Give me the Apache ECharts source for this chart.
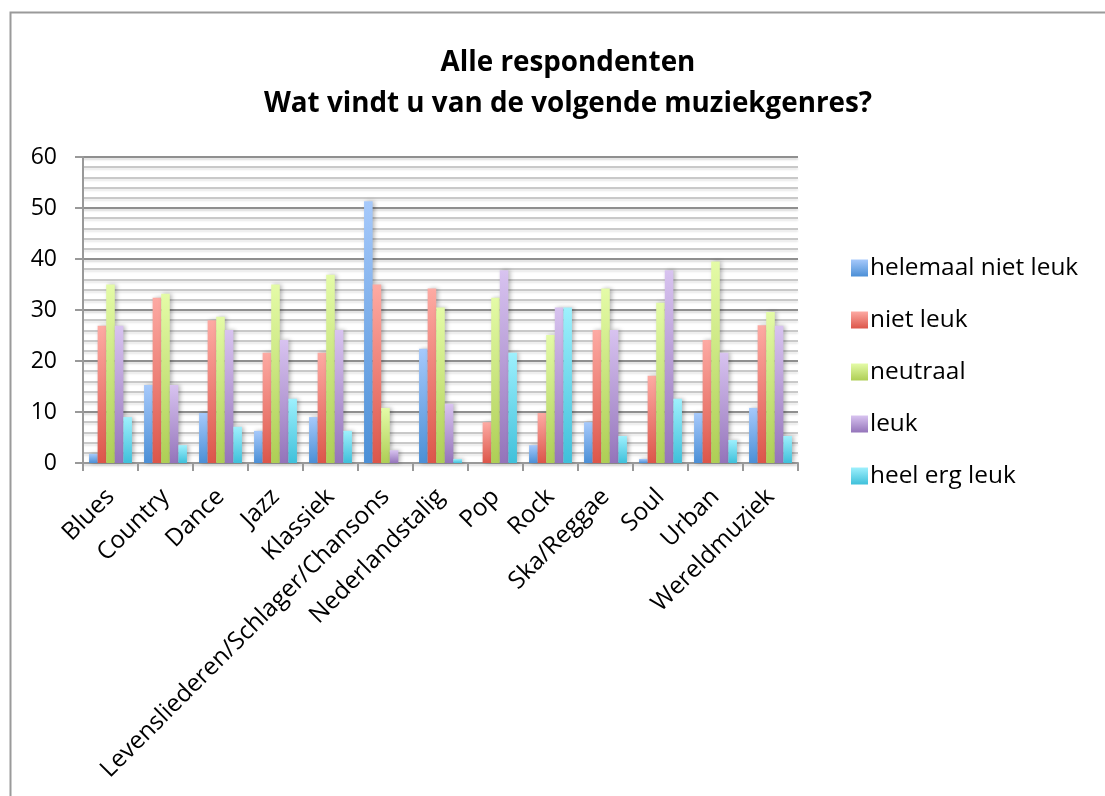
<!DOCTYPE html>
<html>
<head>
<meta charset="utf-8">
<style>
html,body{margin:0;padding:0;background:#fff;}
#chart{width:1105px;height:796px;}
</style>
<script src="https://cdn.jsdelivr.net/npm/echarts@6/dist/echarts.min.js"></script>
</head>
<body>
<div id="chart"></div>
<script>
const categories = ['Blues','Country','Dance','Jazz','Klassiek','Levensliederen/Schlager/Chansons','Nederlandstalig','Pop','Rock','Ska/Reggae','Soul','Urban','Wereldmuziek'];
const seriesNames = ['helemaal niet leuk','niet leuk','neutraal','leuk','heel erg leuk'];
const helemaalNietLeuk = [1.8, 15.3, 9.8, 6.3, 9.0, 51.3, 22.4, 0, 3.5, 8.0, 0.8, 9.8, 10.8];
const nietLeuk = [26.9, 32.4, 28.0, 21.6, 21.6, 35.0, 34.2, 8.0, 9.8, 26.1, 17.1, 24.1, 27.0];
const neutraal = [35.0, 33.2, 28.7, 35.0, 36.9, 10.8, 30.5, 32.4, 25.1, 34.2, 31.4, 39.5, 29.6];
const leuk = [26.9, 15.3, 26.1, 24.1, 26.1, 2.5, 11.6, 37.8, 30.5, 26.1, 37.8, 21.6, 26.9];
const heelErgLeuk = [9.0, 3.5, 7.1, 12.6, 6.3, 0, 0.8, 21.6, 30.5, 5.3, 12.6, 4.5, 5.3];
const yTicks = [0, 10, 20, 30, 40, 50, 60];

const allData = [helemaalNietLeuk, nietLeuk, neutraal, leuk, heelErgLeuk];
const gradTop = ['#a6c9fb', '#fdaaa3', '#e4fba7', '#d8c3f0', '#9ef0fd'];
const gradBottom = ['#4b8fd6', '#dc564a', '#aece55', '#9474ba', '#3fc0da'];

const FONT = '"Open Sans", Lato, sans-serif';
const chart = echarts.init(document.getElementById('chart'), null, {renderer: 'canvas'});

const series = seriesNames.map((name, i) => ({
  name: name,
  type: 'bar',
  data: allData[i],
  barGap: '0%',
  barCategoryGap: '22%',
  itemStyle: {
    color: new echarts.graphic.LinearGradient(0, 0, 0, 1, [
      {offset: 0, color: gradTop[i]},
      {offset: 1, color: gradBottom[i]}
    ]),
    shadowBlur: 4,
    shadowColor: 'rgba(0,0,0,0.28)',
    shadowOffsetX: 2,
    shadowOffsetY: 0
  },
  emphasis: {disabled: true}
}));

chart.setOption({
  backgroundColor: '#fff',
  animation: false,
  graphic: [{
    type: 'rect',
    shape: {x: 10.5, y: 12.5, width: 1200, height: 900},
    style: {fill: 'none', stroke: '#9a9a9a', lineWidth: 2},
    silent: true
  }],
  title: {
    text: 'Alle respondenten\nWat vindt u van de volgende muziekgenres?',
    left: 563,
    textAlign: 'center',
    top: 38,
    textStyle: {
      fontFamily: FONT,
      fontWeight: 'bold',
      fontSize: 27.8,
      lineHeight: 41,
      color: '#000'
    }
  },
  legend: {
    orient: 'vertical',
    left: 846,
    top: 251,
    itemWidth: 17,
    itemHeight: 17,
    itemGap: 28,
    icon: 'rect',
    textStyle: {fontFamily: FONT, fontSize: 24.4, color: '#000', lineHeight: 24, padding: [0, 0, 0, -3]},
    data: seriesNames
  },
  grid: {left: 83, top: 157, width: 715, height: 306, containLabel: false},
  xAxis: {
    type: 'category',
    data: categories,
    axisLine: {lineStyle: {color: '#999', width: 2}},
    axisTick: {show: true, length: 8, lineStyle: {color: '#999', width: 2}},
    axisLabel: {
      rotate: 45,
      interval: 0,
      margin: 30,
      fontFamily: FONT,
      fontSize: 24.3,
      color: '#000'
    },
    splitLine: {show: false}
  },
  yAxis: {
    type: 'value',
    min: yTicks[0],
    max: yTicks[yTicks.length - 1],
    interval: 10,
    axisLine: {show: true, lineStyle: {color: '#999', width: 2}},
    axisTick: {show: true, length: 8, lineStyle: {color: '#999', width: 2}},
    axisLabel: {
      margin: 26,
      fontFamily: FONT,
      fontSize: 23,
      color: '#000'
    },
    splitLine: {
      show: true,
      lineStyle: {color: '#8f8f8f', width: 2, shadowColor: 'rgba(0,0,0,0.15)', shadowBlur: 2, shadowOffsetY: 2}
    },
    minorTick: {show: false, splitNumber: 5},
    minorSplitLine: {
      show: true,
      lineStyle: {color: '#b8b8b8', width: 1.5, shadowColor: 'rgba(0,0,0,0.12)', shadowBlur: 2, shadowOffsetY: 2}
    }
  },
  series: series
});
</script>
</body>
</html>
